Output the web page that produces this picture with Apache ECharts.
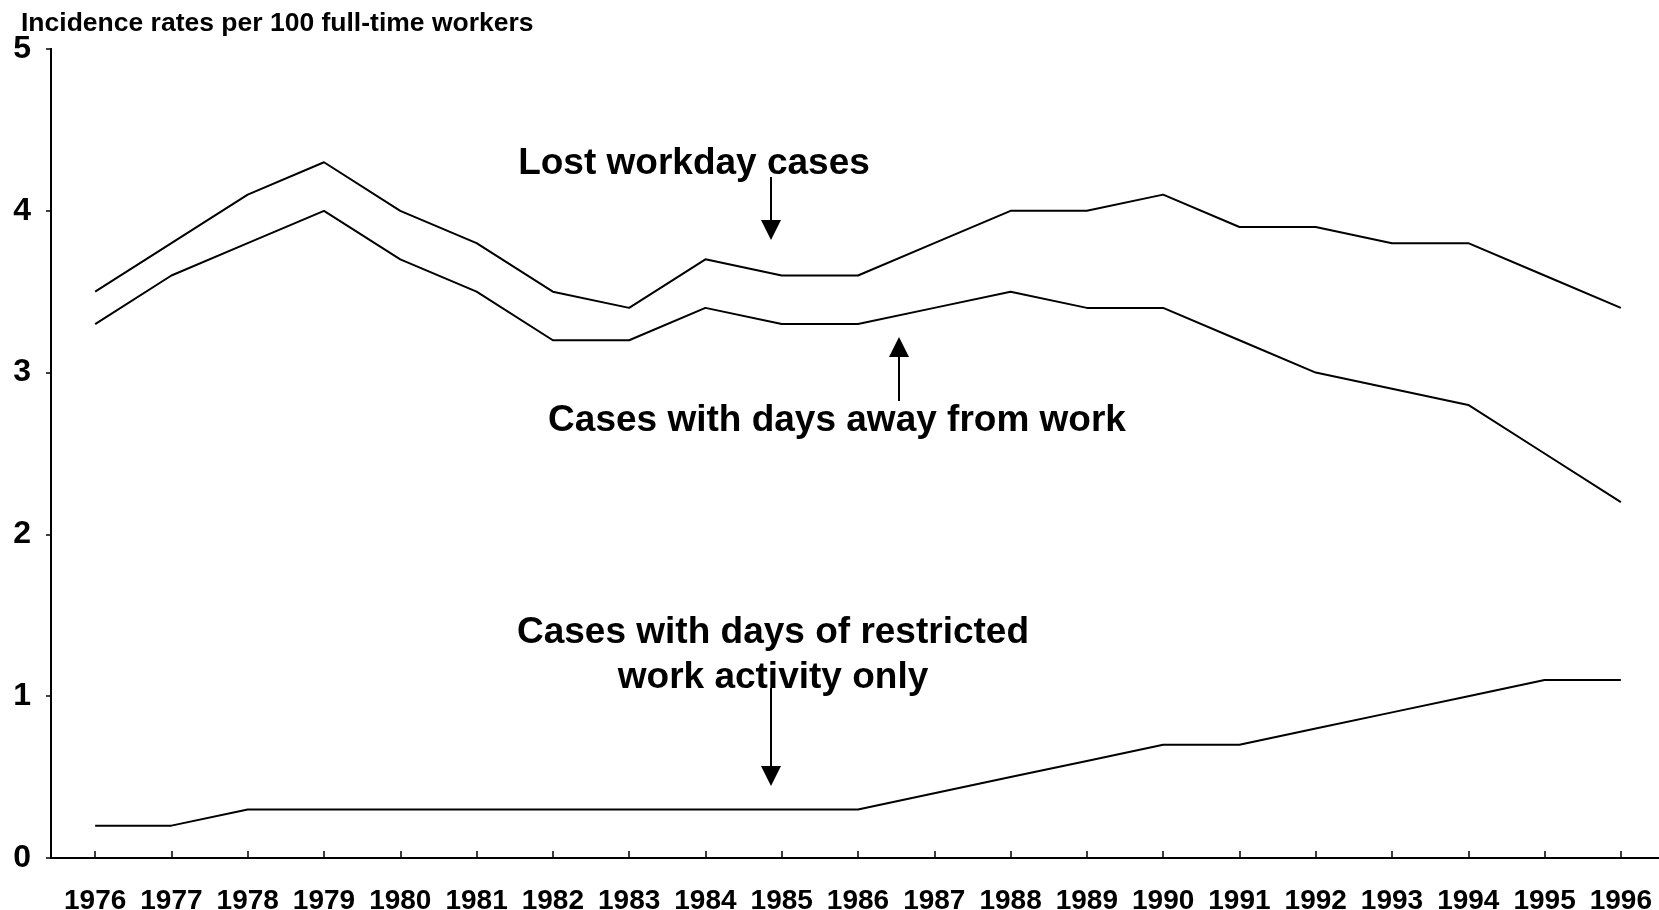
<!DOCTYPE html>
<html>
<head>
<meta charset="utf-8">
<title>Incidence rates</title>
<script src="https://cdn.jsdelivr.net/npm/echarts@6/dist/echarts.min.js"></script>
<style>
  html, body { margin: 0; padding: 0; background: #fff; }
  #chart { width: 1659px; height: 910px; }
</style>
</head>
<body>
<div id="chart"></div>
<script>
// data
const years = ["1976", "1977", "1978", "1979", "1980", "1981", "1982", "1983", "1984", "1985", "1986",
  "1987", "1988", "1989", "1990", "1991", "1992", "1993", "1994", "1995", "1996"];
const lostWorkday = [3.5, 3.8, 4.1, 4.3, 4.0, 3.8, 3.5, 3.4, 3.7, 3.6, 3.6, 3.8, 4.0, 4.0, 4.1, 3.9, 3.9, 3.8, 3.8, 3.6, 3.4];
const daysAway = [3.3, 3.6, 3.8, 4.0, 3.7, 3.5, 3.2, 3.2, 3.4, 3.3, 3.3, 3.4, 3.5, 3.4, 3.4, 3.2, 3.0, 2.9, 2.8, 2.5, 2.2];
const restricted = [0.2, 0.2, 0.3, 0.3, 0.3, 0.3, 0.3, 0.3, 0.3, 0.3, 0.3, 0.4, 0.5, 0.6, 0.7, 0.7, 0.8, 0.9, 1.0, 1.1, 1.1];
const yTicks = [0, 1, 2, 3, 4, 5];

const FONT = "'Liberation Sans', Arial, Helvetica, sans-serif";
const black = "#000";

let myChart = echarts.init(document.getElementById("chart"));

function lineSeries(name, data) {
  return {
    name: name,
    type: "line",
    xAxisIndex: 2,
    yAxisIndex: 2,
    data: data,
    symbol: "none",
    lineStyle: { color: black, width: 2 },
    itemStyle: { color: black },
    animation: false
  };
}

function arrow(x, yFrom, yTip, dir) {
  // dir = 1 points down, -1 points up
  const head = 20;
  const base = yTip - dir * head;
  return [
    { type: "line", shape: { x1: x, y1: yFrom, x2: x, y2: base }, style: { stroke: black, lineWidth: 2 } },
    { type: "polygon", shape: { points: [[x - 10, base], [x + 10, base], [x, yTip]] }, style: { fill: black } }
  ];
}

const annoFont = "bold 37px " + FONT;

myChart.setOption({
  animation: false,
  backgroundColor: "#fff",
  grid: [
    // frame: left axis, top and right borders
    { left: 51, right: 8, top: 49, bottom: 52, containLabel: false, outerBoundsMode: "none" },
    // plotting area of the categories
    { left: 57, right: 0, top: 49, bottom: 52, containLabel: false, outerBoundsMode: "none" }
  ],
  xAxis: [
    {
      gridIndex: 0, type: "value", min: 0, max: 1, position: "bottom",
      axisLine: { show: true, lineStyle: { color: black, width: 2 } },
      axisTick: { show: false }, axisLabel: { show: false }, splitLine: { show: false }
    },
    {
      gridIndex: 0, type: "value", min: 0, max: 1, position: "top",
      axisLine: { show: true, lineStyle: { color: black, width: 2 } },
      axisTick: { show: false }, axisLabel: { show: false }, splitLine: { show: false }
    },
    {
      gridIndex: 1, type: "category", data: years, boundaryGap: true, position: "bottom",
      axisLine: { show: true, lineStyle: { color: black, width: 2 } },
      axisTick: { show: true, inside: true, alignWithLabel: true, length: 7, lineStyle: { color: black, width: 1.5 } },
      axisLabel: { interval: 0, margin: 29, color: black, fontSize: 28, fontWeight: "bold", fontFamily: FONT },
      splitLine: { show: false }
    }
  ],
  yAxis: [
    {
      gridIndex: 0, type: "value", min: 0, max: 5, interval: 1, position: "left",
      axisLine: { show: true, lineStyle: { color: black, width: 2 } },
      axisTick: { show: true, inside: false, length: 5, lineStyle: { color: black, width: 1.5 } },
      axisLabel: {
        margin: 20, color: black, fontSize: 32, fontWeight: "bold", fontFamily: FONT,
        formatter: function (v) { return yTicks.indexOf(v) >= 0 ? String(v) : ""; }
      },
      splitLine: { show: false }
    },
    {
      gridIndex: 0, type: "value", min: 0, max: 5, position: "right",
      axisLine: { show: true, lineStyle: { color: black, width: 2 } },
      axisTick: { show: false }, axisLabel: { show: false }, splitLine: { show: false }
    },
    {
      gridIndex: 1, type: "value", min: 0, max: 5, show: false
    }
  ],
  series: [
    lineSeries("Lost workday cases", lostWorkday),
    lineSeries("Cases with days away from work", daysAway),
    lineSeries("Cases with days of restricted work activity only", restricted)
  ],
  graphic: [
    {
      type: "text", x: 21, y: 24,
      style: { text: "Incidence rates per 100 full-time workers", font: "bold 26.5px " + FONT, fill: black, align: "left", verticalAlign: "middle" }
    },
    {
      type: "text", x: 694, y: 164,
      style: { text: "Lost workday cases", font: annoFont, fill: black, align: "center", verticalAlign: "middle" }
    },
    {
      type: "text", x: 837, y: 421,
      style: { text: "Cases with days away from work", font: annoFont, fill: black, align: "center", verticalAlign: "middle" }
    },
    {
      type: "text", x: 773, y: 655,
      style: { text: "Cases with days of restricted\nwork activity only", font: annoFont, lineHeight: 45, fill: black, align: "center", verticalAlign: "middle" }
    }
  ].concat(arrow(771, 177, 240, 1), arrow(899, 401, 337, -1), arrow(771, 688, 786, 1))
});

window.onresize = myChart.resize;
</script>
</body>
</html>
